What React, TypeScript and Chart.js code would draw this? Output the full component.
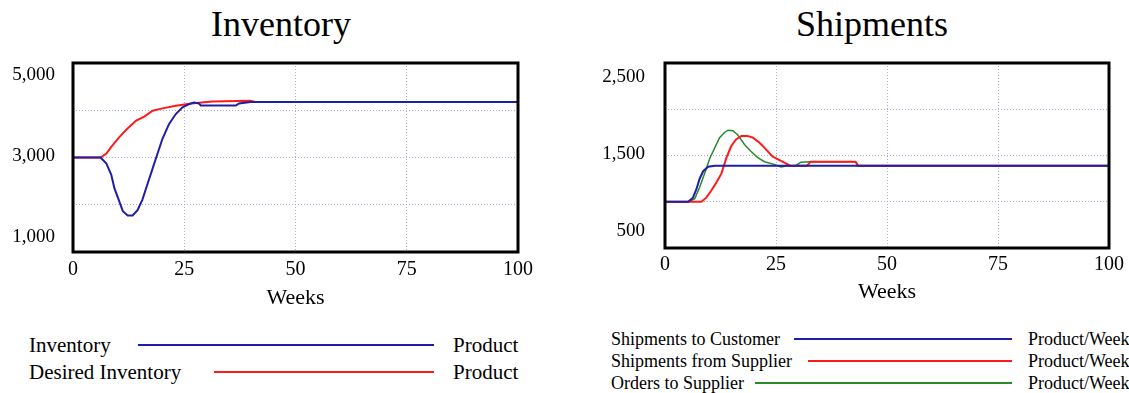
import React, { useEffect, useRef } from 'react';
import { Chart, registerables } from 'chart.js';

Chart.register(...registerables);

const SERIF = "'Liberation Serif', 'Times New Roman', Times, serif";

// ---------- data ----------
const weekTicks = [0, 25, 50, 75, 100];

// Inventory chart
const inventoryWeeks = [0, 6.2, 7.5, 8.6, 9.3, 10.4, 11.2, 12.3, 13.4, 14.5, 15.6, 16.8, 17.9, 19.0, 20.1, 21.6, 23.1, 24.6, 26.1, 27.2, 28.3, 28.7, 32.1, 36.6, 37.3, 39.9, 100];
const inventoryValues = [3000, 3000, 2874, 2632, 2351, 2073, 1864, 1774, 1774, 1885, 2109, 2456, 2770, 3084, 3397, 3711, 3920, 4061, 4130, 4165, 4144, 4100, 4098, 4100, 4145, 4172, 4175];
const desiredWeeks = [0, 6.2, 7.5, 8.6, 10.4, 12.2, 14.2, 16.0, 17.9, 20.1, 23.1, 24.7, 26.5, 31.3, 39.8, 41, 100];
const desiredValues = [3000, 3000, 3084, 3224, 3433, 3607, 3782, 3866, 3991, 4040, 4096, 4117, 4144, 4186, 4200, 4175, 4175];
const inventoryAxisLabels = [1000, 3000, 5000];

// Shipments chart
const toCustomerWeeks = [0, 5.2, 6.3, 7.1, 7.8, 8.6, 9.7, 11.2, 100];
const toCustomerValues = [1000, 1000, 1044, 1138, 1249, 1330, 1378, 1390, 1390];
const fromSupplierWeeks = [0, 8.2, 9.3, 10.4, 11.6, 12.7, 13.8, 14.9, 16.0, 17.2, 18.6, 19.8, 21.3, 22.8, 24.2, 25.7, 27.2, 28.2, 32.0, 32.8, 42.9, 43.5, 100];
const fromSupplierValues = [1000, 1000, 1044, 1119, 1211, 1304, 1471, 1600, 1674, 1711, 1711, 1693, 1638, 1563, 1489, 1452, 1415, 1390, 1390, 1433, 1433, 1390, 1390];
const ordersWeeks = [0, 5.5, 6.7, 7.8, 8.9, 10.1, 11.2, 12.3, 13.4, 14.2, 15.3, 16.4, 17.9, 19.4, 20.9, 22.4, 24.6, 26.1, 27.6, 29.5, 30.6, 32.8, 42.9, 43.5, 100];
const ordersValues = [1000, 1000, 1033, 1156, 1304, 1471, 1582, 1693, 1749, 1774, 1767, 1722, 1619, 1544, 1478, 1433, 1404, 1375, 1390, 1392, 1428, 1433, 1433, 1390, 1390];
const shipmentsAxisLabels = [500, 1500, 2500];

const BLUE = '#1e1ea6';
const RED = '#ff1a1a';
const GREEN = '#2a8a2a';
const GRID = 'rgba(150,140,195,0.75)';

type Series = { label: string; weeks: number[]; values: number[]; color: string; width: number };

type ChartProps = {
  left: number;
  width: number;
  height: number;
  series: Series[];
  yMin: number;
  yMax: number;
  yStep: number;
  yLabels: number[];
  padding: { left: number; right: number; top: number; bottom: number };
  yWidth: number;
  yTickPadding: number;
  yLineHeight: string;
  yLabelOffset: number;
  xHeight: number;
  xTickPadding: number;
};

const framePlugin = {
  id: 'frame',
  afterDraw(chart: any) {
    const { ctx, chartArea } = chart;
    ctx.save();
    ctx.strokeStyle = '#000';
    ctx.lineWidth = 3;
    ctx.strokeRect(chartArea.left, chartArea.top, chartArea.right - chartArea.left, chartArea.bottom - chartArea.top);
    ctx.restore();
  },
};

function LineChart(p: ChartProps) {
  const ref = useRef<HTMLCanvasElement | null>(null);
  useEffect(() => {
    if (!ref.current) return;
    const fmt = (v: number) => v.toLocaleString('en-US');
    const chart = new Chart(ref.current, {
      type: 'line',
      data: {
        datasets: p.series.map((s) => ({
          label: s.label,
          data: s.weeks.map((w, i) => ({ x: w, y: s.values[i] })),
          borderColor: s.color,
          backgroundColor: s.color,
          borderWidth: s.width,
          pointRadius: 0,
          tension: 0,
          fill: false,
        })),
      },
      options: {
        animation: false,
        responsive: false,
        events: [],
        layout: { padding: p.padding },
        plugins: {
          legend: { display: false },
          title: { display: false },
          tooltip: { enabled: false },
        },
        scales: {
          x: {
            type: 'linear',
            min: 0,
            max: 100,
            afterBuildTicks: (axis: any) => {
              axis.ticks = weekTicks.map((v) => ({ value: v }));
            },
            afterFit: (axis: any) => {
              axis.height = p.xHeight;
            },
            grid: { color: GRID, drawTicks: false, lineWidth: 1 },
            border: { display: false, dash: [1, 2] },
            ticks: {
              color: '#000',
              font: { family: SERIF, size: 20, lineHeight: 1.2 },
              padding: p.xTickPadding,
              maxRotation: 0,
              autoSkip: false,
            },
            title: {
              display: true,
              text: 'Weeks',
              color: '#000',
              font: { family: SERIF, size: 22, lineHeight: 1.2 },
              padding: 0,
            },
          },
          y: {
            type: 'linear',
            min: p.yMin,
            max: p.yMax,
            afterFit: (axis: any) => {
              axis.width = p.yWidth;
            },
            grid: { color: GRID, drawTicks: false, lineWidth: 1 },
            border: { display: false, dash: [1, 2] },
            ticks: {
              stepSize: p.yStep,
              color: '#000',
              font: { family: SERIF, size: 19, lineHeight: p.yLineHeight },
              padding: p.yTickPadding,
              labelOffset: p.yLabelOffset,
              autoSkip: false,
              callback: (value: any) => {
                const v = Number(value);
                if (!p.yLabels.includes(v)) return '';
                if (v === p.yMax) return ['', fmt(v)];
                if (v === p.yMin) return [fmt(v), ''];
                return fmt(v);
              },
            },
          },
        },
      },
      plugins: [framePlugin],
    } as any);
    return () => chart.destroy();
  }, []);
  return (
    <canvas
      ref={ref}
      width={p.width}
      height={p.height}
      style={{ position: 'absolute', left: p.left, top: 0, width: p.width, height: p.height, display: 'block' }}
    />
  );
}

function Text({ x, y, size, children }: { x: number; y: number; size: number; children: React.ReactNode }) {
  return (
    <div
      style={{
        position: 'absolute',
        left: x,
        top: y - size / 2,
        fontFamily: SERIF,
        fontSize: size,
        lineHeight: `${size}px`,
        whiteSpace: 'nowrap',
        color: '#000',
      }}
    >
      {children}
    </div>
  );
}

function Swatch({ x1, x2, y, color }: { x1: number; x2: number; y: number; color: string }) {
  return <div style={{ position: 'absolute', left: x1, top: y - 1, width: x2 - x1, height: 2, background: color }} />;
}

const inventorySeries: Series[] = [
  { label: 'Inventory', weeks: inventoryWeeks, values: inventoryValues, color: BLUE, width: 2 },
  { label: 'Desired Inventory', weeks: desiredWeeks, values: desiredValues, color: RED, width: 2 },
];

const shipmentSeries: Series[] = [
  { label: 'Shipments to Customer', weeks: toCustomerWeeks, values: toCustomerValues, color: BLUE, width: 2 },
  { label: 'Shipments from Supplier', weeks: fromSupplierWeeks, values: fromSupplierValues, color: RED, width: 2 },
  { label: 'Orders to Supplier', weeks: ordersWeeks, values: ordersValues, color: GREEN, width: 1.5 },
];

export default function App() {
  return (
    <div
      style={{
        position: 'fixed',
        left: 0,
        top: 0,
        width: 1129,
        height: 393,
        background: '#fff',
        overflow: 'hidden',
        fontFamily: SERIF,
      }}
    >
      <div style={{ position: 'absolute', left: 131, top: 6, width: 300, textAlign: 'center', fontFamily: SERIF, fontSize: 36, lineHeight: '36px' }}>
        Inventory
      </div>
      <div style={{ position: 'absolute', left: 722, top: 6, width: 300, textAlign: 'center', fontFamily: SERIF, fontSize: 36, lineHeight: '36px' }}>
        Shipments
      </div>

      <LineChart
        left={0}
        width={565}
        height={320}
        series={inventorySeries}
        yMin={1000}
        yMax={5000}
        yStep={1000}
        yLabels={inventoryAxisLabels}
        padding={{ left: 0, right: 47, top: 63, bottom: 9 }}
        yWidth={73}
        yTickPadding={18}
        yLineHeight="27px"
        yLabelOffset={-1.5}
        xHeight={59}
        xTickPadding={6}
      />
      <LineChart
        left={580}
        width={549}
        height={320}
        series={shipmentSeries}
        yMin={500}
        yMax={2500}
        yStep={500}
        yLabels={shipmentsAxisLabels}
        padding={{ left: 0, right: 17, top: 63, bottom: 15 }}
        yWidth={85}
        yTickPadding={20}
        yLineHeight="30.5px"
        yLabelOffset={-1.25}
        xHeight={57}
        xTickPadding={5}
      />

      {/* Inventory legend */}
      <Text x={29} y={345} size={21}>Inventory</Text>
      <Swatch x1={138} x2={434} y={345} color={BLUE} />
      <Text x={453} y={345} size={21}>Product</Text>
      <Text x={29} y={372} size={21}>Desired Inventory</Text>
      <Swatch x1={214} x2={434} y={372} color={RED} />
      <Text x={453} y={372} size={21}>Product</Text>

      {/* Shipments legend */}
      <Text x={611} y={339} size={18}>Shipments to Customer</Text>
      <Swatch x1={794} x2={1012} y={339} color={BLUE} />
      <Text x={1028} y={339} size={18}>Product/Week</Text>
      <Text x={611} y={361} size={18}>Shipments from Supplier</Text>
      <Swatch x1={808} x2={1012} y={361} color={RED} />
      <Text x={1028} y={361} size={18}>Product/Week</Text>
      <Text x={611} y={383} size={18}>Orders to Supplier</Text>
      <Swatch x1={755} x2={1012} y={383} color={GREEN} />
      <Text x={1028} y={383} size={18}>Product/Week</Text>
    </div>
  );
}
